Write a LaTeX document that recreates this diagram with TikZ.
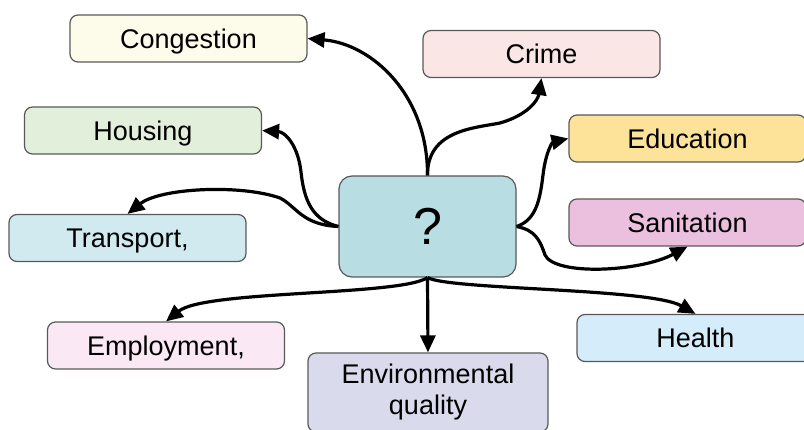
\documentclass[tikz,border=0pt]{standalone}
\usepackage{fontspec}
\setmainfont{Liberation Sans}
\usepackage{tikz}
\usetikzlibrary{arrows.meta, positioning}

\definecolor{ccentro}{RGB}{184,222,228}
\definecolor{ccong}{RGB}{253,251,234}
\definecolor{ccrime}{RGB}{251,230,230}
\definecolor{chous}{RGB}{226,239,219}
\definecolor{cedu}{RGB}{253,226,153}
\definecolor{ctrans}{RGB}{208,234,240}
\definecolor{csani}{RGB}{235,192,222}
\definecolor{cemp}{RGB}{250,233,245}
\definecolor{chealth}{RGB}{213,236,250}
\definecolor{cenv}{RGB}{218,218,237}

\begin{document}
\begin{tikzpicture}[x=1pt,y=-1pt,
        caja/.style={draw=black!65, line width=1.2pt, rounded corners=8pt,
            minimum width=237pt, minimum height=47pt, inner sep=0pt,
            text depth=0pt, font=\fontsize{27}{31}\selectfont},
        flecha/.style={line width=3.2pt, -{Triangle[length=17pt,width=15pt]}}]
        \useasboundingbox (0,0) rectangle (804,430);
        % Caja central
        \node[caja, fill=ccentro, minimum width=177pt, minimum height=101pt,
            rounded corners=13pt, font=\fontsize{52}{56}\selectfont] (q) at (427.5,226.5) {?};
        % Cajas de alrededor
        \node[caja, fill=ccong] (cong) at (188.5,38.5) {Congestion};
        \node[caja, fill=ccrime] (crime) at (541.5,54) {Crime};
        \node[caja, fill=chous] (hous) at (143,130.5) {Housing};
        \node[caja, fill=cedu] (edu) at (687.5,138.5) {Education};
        \node[caja, fill=ctrans] (trans) at (127.5,238) {Transport,};
        \node[caja, fill=csani] (sani) at (687.5,222.5) {Sanitation};
        \node[caja, fill=cemp] (emp) at (166,345.5) {Employment,};
        \node[caja, fill=chealth] (health) at (695.5,338) {Health};
        \node[caja, fill=cenv, minimum width=240pt, minimum height=79pt,
            text depth={}, align=center] (env) at (428,392.5) {Environmental\\quality};
        % Flechas hacia arriba
        \draw[flecha] (q.north) .. controls (428,95) and (372,44) .. (cong.east);
        \draw[flecha] (q.north) .. controls (427,130) and (475,128) .. (500,123)
            .. controls (528,115) and (538,100) .. (crime.south);
        % Flechas a la izquierda
        \draw[flecha] (q.west) .. controls (312,220) and (304,200) .. (301,172)
            .. controls (298,145) and (285,132) .. (hous.east);
        \draw[flecha] (q.west) .. controls (302,225) and (296,206) .. (280,198)
            .. controls (240,184) and (160,188) .. (trans.north);
        % Flechas a la derecha
        \draw[flecha] (q.east) .. controls (536,220) and (540,200) .. (543,175)
            .. controls (546,150) and (553,142) .. (edu.west);
        \draw[flecha] (q.east) .. controls (535,230) and (540,240) .. (545,255)
            .. controls (555,276) and (640,272) .. (sani.south);
        % Flechas hacia abajo
        \draw[flecha] (q.south) .. controls (450,290) and (650,288) .. (health.north);
        \draw[flecha] (q.south) -- (env.north);
        \draw[flecha] (q.south) .. controls (400,296) and (205,290) .. (emp.north);
\end{tikzpicture}
\end{document}
